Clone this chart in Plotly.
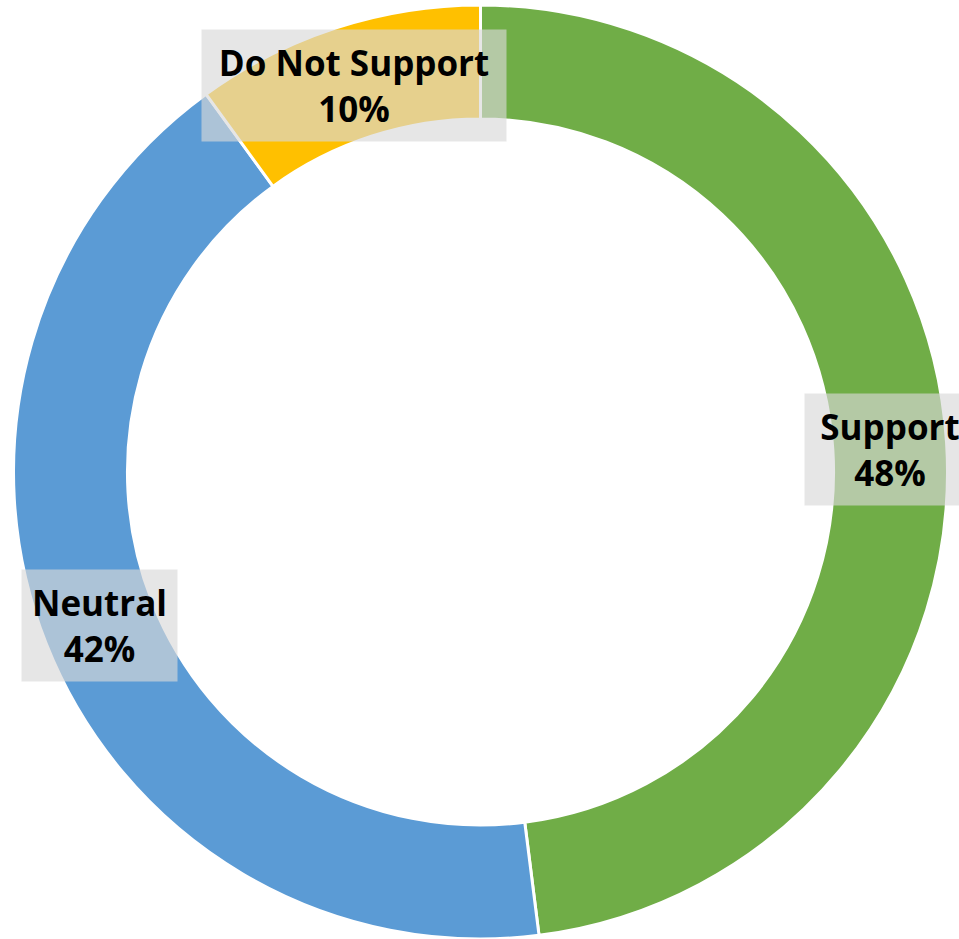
import math
import plotly.graph_objects as go

categories = ["Support", "Neutral", "Do Not Support"]
values = [48, 42, 10]
colors = ["#70AD47", "#5B9BD5", "#FFC000"]
box_widths = [148, 133, 282]

W, H = 959, 939
ML, MR, MT, MB = 2, 0, 5, 0
HOLE = 0.756
FONT = "Open Sans"

fig = go.Figure(go.Pie(
    labels=categories,
    values=values,
    sort=False,
    direction="clockwise",
    rotation=0,
    hole=HOLE,
    marker=dict(colors=colors, line=dict(color="white", width=3)),
    textinfo="none",
    hoverinfo="skip",
    showlegend=False,
))

pw, ph = W - ML - MR, H - MT - MB
R = min(pw, ph) / 2
rmid = R * (1 + HOLE) / 2
total = sum(values)
cum = 0
annotations = []
for cat, v, bw in zip(categories, values, box_widths):
    mid = (cum + v / 2) / total * 2 * math.pi
    cum += v
    dx = rmid * math.sin(mid)
    dy = rmid * math.cos(mid)
    annotations.append(dict(
        x=0.5 + dx / pw, y=0.5 + dy / ph, xref="paper", yref="paper",
        text=f"<b>{cat}</b><br><b>{round(v / total * 100)}%</b>",
        showarrow=False, xanchor="center", yanchor="middle", yshift=-3,
        font=dict(family=FONT, size=35, color="black"),
        bgcolor="rgba(217,217,217,0.65)", borderpad=11,
        width=bw, height=89, align="center",
    ))

fig.update_layout(
    width=W, height=H,
    margin=dict(l=ML, r=MR, t=MT, b=MB),
    paper_bgcolor="white", plot_bgcolor="white",
    annotations=annotations,
)
fig.write_html(
    "out.html",
    config={"displayModeBar": False},
    post_script="document.body.style.margin='0';document.body.style.overflow='hidden';",
)
